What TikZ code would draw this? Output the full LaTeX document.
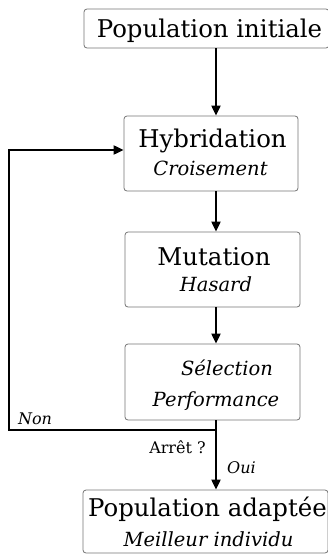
\documentclass[tikz,border=0pt]{standalone}
\usepackage{fontspec}
\setmainfont{DejaVu Serif}
\usetikzlibrary{arrows.meta,calc}
\tikzset{
  box/.style={draw=black!55, line width=0.8pt, rounded corners=3pt, inner sep=0pt},
  arr/.style={line width=2pt, -{Triangle[length=10pt,width=9pt]}},
  ln/.style={line width=2pt},
  big/.style={font=\fontsize{24.4}{28}\selectfont, anchor=base, inner sep=0pt},
  sub/.style={font=\fontsize{19.5}{23}\selectfont\itshape, anchor=base, inner sep=0pt},
  lbl/.style={font=\fontsize{16}{19}\selectfont, anchor=base, inner sep=0pt},
  lbli/.style={font=\fontsize{16}{19}\selectfont\itshape, anchor=base, inner sep=0pt},
}
\begin{document}
\begin{tikzpicture}[x=1pt,y=-1pt]
\useasboundingbox (0,0) rectangle (328,554);
% boxes
\node[box, minimum width=245pt, minimum height=39pt] (init) at (206.5,28.5) {};
\node[box, minimum width=174pt, minimum height=75pt] (hyb) at (211,153.5) {};
\node[box, minimum width=175pt, minimum height=75pt] (mut) at (212.5,269.5) {};
\node[box, minimum width=175pt, minimum height=76pt] (sel) at (212.5,382) {};
\node[box, minimum width=245pt, minimum height=63pt] (fin) at (205.5,521.5) {};
% texts
\node[big] (tinit) at (209.5,37.7) {Population initiale};
\node[big] (thyb) at (212.5,147.7) {Hybridation};
\node[sub] (shyb) at (210.5,175) {Croisement};
\node[big] (tmut) at (214,265.7) {Mutation};
\node[sub] (smut) at (216,291.7) {Hasard};
\node[sub] (tsel) at (227,375.7) {Sélection};
\node[sub] (ssel) at (216,406.7) {Performance};
\node[big] (tfin) at (207.5,516.7) {Population adaptée};
\node[sub] (sfin) at (208.5,546.7) {Meilleur individu};
% connectors
\coordinate (sp) at (216,0);
\coordinate (j) at (216,430);
\coordinate (lb) at (9,430);
\coordinate (lt) at (9,150);
\draw[arr] (init.south -| sp) -- (hyb.north -| sp);
\draw[arr] (hyb.south -| sp) -- (mut.north -| sp);
\draw[arr] (mut.south -| sp) -- (sel.north -| sp);
\draw[ln] (sel.south -| sp) -- (j);
\draw[arr] (j) -- (lb) -- (lt) -- (lt -| hyb.west);
\draw[arr] (j) -- (fin.north -| sp);
% labels
\node[lbli] (non) at (35,424) {Non};
\node[lbl] (arret) at (177.5,453) {Arrêt ?};
\node[lbli] (oui) at (241.5,473) {Oui};
\end{tikzpicture}
\end{document}
